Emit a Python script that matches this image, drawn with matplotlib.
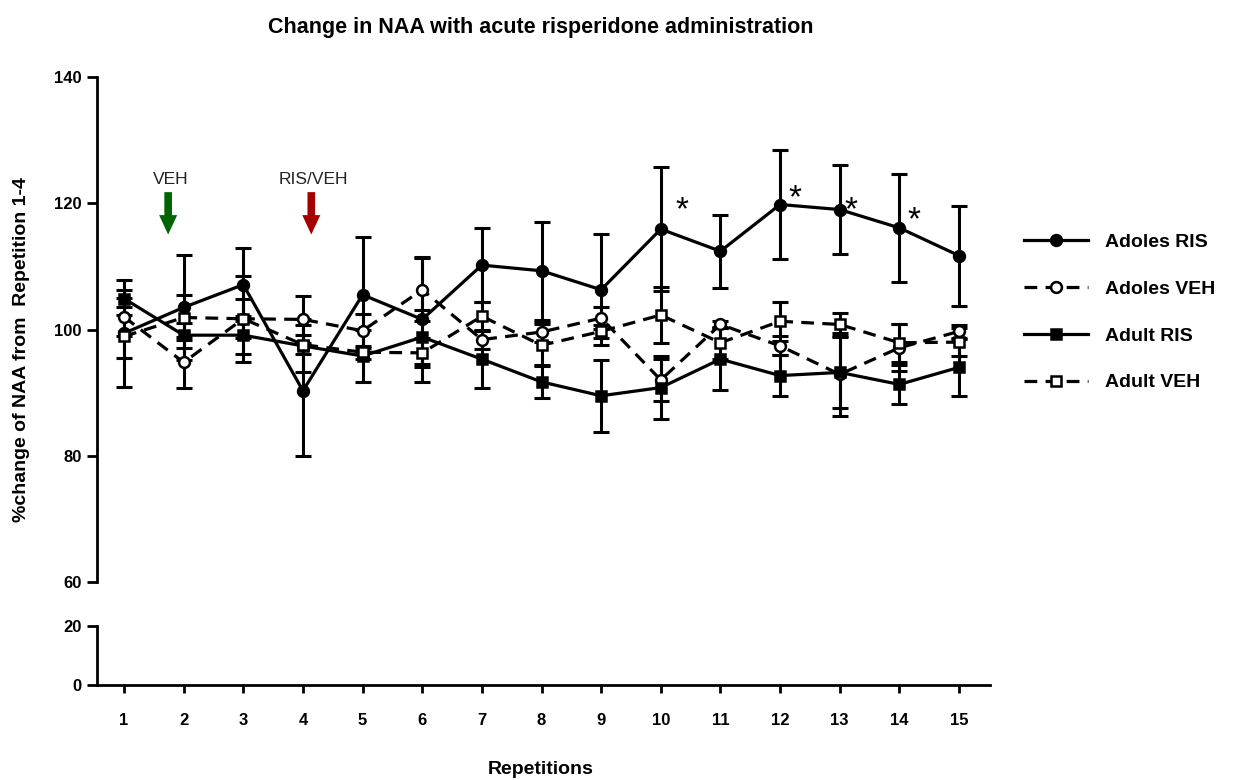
import matplotlib
matplotlib.use("Agg")
import matplotlib.pyplot as plt
from matplotlib.lines import Line2D
from matplotlib.font_manager import FontProperties

# Repetition index
reps = list(range(1, 16))
rep_labels = [str(r) for r in reps]

# Mean % change of NAA and SEM per group
adoles_ris = [99.4, 103.5, 107.1, 90.3, 105.5, 101.6, 110.2, 109.3, 106.3, 115.9, 112.4, 119.8, 119.0, 116.1, 111.7]
adoles_ris_err = [8.5, 8.3, 5.8, 10.4, 9.1, 9.9, 5.9, 7.8, 8.8, 9.8, 5.8, 8.6, 7.0, 8.5, 7.9]

adoles_veh = [102.0, 94.8, 101.7, 101.6, 99.8, 106.3, 98.4, 99.6, 101.8, 92.0, 100.8, 97.4, 92.9, 97.1, 99.7]
adoles_veh_err = [3.0, 4.0, 3.1, 3.7, 2.7, 5.0, 1.5, 1.6, 1.7, 3.4, 0.6, 1.5, 6.6, 3.7, 1.0]

adult_ris = [104.9, 99.1, 99.1, 97.4, 95.8, 98.8, 95.3, 91.7, 89.5, 90.8, 95.3, 92.7, 93.2, 91.3, 94.0]
adult_ris_err = [1.4, 2.0, 3.0, 4.2, 4.1, 4.3, 4.5, 2.6, 5.7, 5.0, 4.9, 3.2, 5.6, 3.1, 4.5]

adult_veh = [98.9, 101.9, 101.7, 97.6, 96.4, 96.3, 102.1, 97.5, 99.7, 102.3, 97.9, 101.3, 100.8, 97.9, 98.0]
adult_veh_err = [3.4, 3.6, 6.8, 1.5, 1.0, 2.3, 2.3, 3.3, 1.0, 4.4, 2.5, 3.1, 1.8, 3.0, 2.2]

# Significant repetitions (Adoles RIS) marked with asterisks
sig_reps = [10, 12, 13, 14]
sig_offsets_px = [(21, 18), (15, 6), (11, -1), (15, 7)]

FONT = "Liberation Sans"
W, H = 1237, 780
fig = plt.figure(figsize=(W / 100, H / 100), dpi=100)

left_px, right_px = 97, 990
ax = fig.add_axes([left_px / W, 1 - 582 / H, (right_px - left_px) / W, (582 - 77) / H])
axb = fig.add_axes([left_px / W, 1 - 685 / H, (right_px - left_px) / W, (685 - 626) / H])

xlim = (0.547, 15.52)
lw = 2.3
for a in (ax, axb):
    a.set_xlim(*xlim)
    a.spines["top"].set_visible(False)
    a.spines["right"].set_visible(False)
    a.spines["left"].set_linewidth(2.0)
    a.spines["bottom"].set_linewidth(2.0)
    a.patch.set_alpha(0)

ax.spines["bottom"].set_visible(False)
ax.set_ylim(60, 140)
ax.set_yticks([60, 80, 100, 120, 140])
ax.set_xticks([])
axb.set_ylim(0, 20)
axb.set_yticks([0, 20])
axb.set_xticks(reps)
axb.set_xticklabels(rep_labels)

tick_fp = FontProperties(family=FONT, weight="bold", size=12)
for a in (ax, axb):
    a.tick_params(axis="y", direction="out", length=7, width=2.0, pad=4)
    a.tick_params(axis="x", direction="out", length=6, width=2.0, pad=14)
    for lab in a.get_yticklabels() + a.get_xticklabels():
        lab.set_fontproperties(tick_fp)

series = [
    ("Adoles RIS", adoles_ris, adoles_ris_err, "o", "black", "-"),
    ("Adoles VEH", adoles_veh, adoles_veh_err, "o", "white", (0, (4, 2.6))),
    ("Adult RIS", adult_ris, adult_ris_err, "s", "black", "-"),
    ("Adult VEH", adult_veh, adult_veh_err, "s", "white", (0, (4, 2.6))),
]

handles = []
for name, vals, errs, mk, fc, ls in series:
    ax.errorbar(reps, vals, yerr=errs, fmt="none", ecolor="black",
                elinewidth=2.2, capsize=5.5, capthick=2.2, zorder=2)
    ms = 7.8 if mk == "o" else 7.4
    ax.plot(reps, vals, color="black", lw=lw, ls=ls, marker=mk, ms=ms,
            mfc=fc, mec="black", mew=1.8, zorder=3)
    handles.append(Line2D([], [], color="black", lw=lw, ls=ls, marker=mk, ms=ms,
                          mfc=fc, mec="black", mew=1.8, label=name))

# Asterisks for significant repetitions
for r, (dx, dy) in zip(sig_reps, sig_offsets_px):
    ax.annotate("*", xy=(r, adoles_ris[r - 1]), xytext=(dx * 0.72, dy * 0.72),
                textcoords="offset points", ha="center", va="center",
                fontsize=24, family=FONT, color="black")

# Treatment arrows
arrows = [("VEH", 1.74, "#006400"), ("RIS/VEH", 4.14, "#a50000")]
for lbl, xpos, col in arrows:
    ax.text(xpos + 0.04, 123.8, lbl, ha="center", va="center", fontsize=12.5,
            family=FONT, color="#222222")
    ax.annotate("", xy=(xpos, 114.6), xytext=(xpos, 122.2),
                arrowprops=dict(arrowstyle="simple,head_width=1.3,head_length=1.4,tail_width=0.55",
                                color=col, lw=0))

fig.text(541 / W, 1 - 28 / H, "Change in NAA with acute risperidone administration",
         ha="center", va="center", fontsize=15.5, weight="bold", family=FONT)
fig.text(541 / W, 1 - 769 / H, "Repetitions", ha="center", va="center",
         fontsize=14, weight="bold", family=FONT)
fig.text(22 / W, 1 - 350 / H, "%change of NAA from  Repetition 1-4", ha="center",
         va="center", rotation=90, fontsize=14, weight="bold", family=FONT)

leg = fig.legend(handles=handles, loc="upper left", bbox_to_anchor=(1006 / W, 1 - 216 / H),
                 frameon=False, handlelength=3.3, handletextpad=0.9, labelspacing=1.5,
                 prop=dict(family=FONT, weight="bold", size=14))

fig.savefig("out.png", dpi=100)
